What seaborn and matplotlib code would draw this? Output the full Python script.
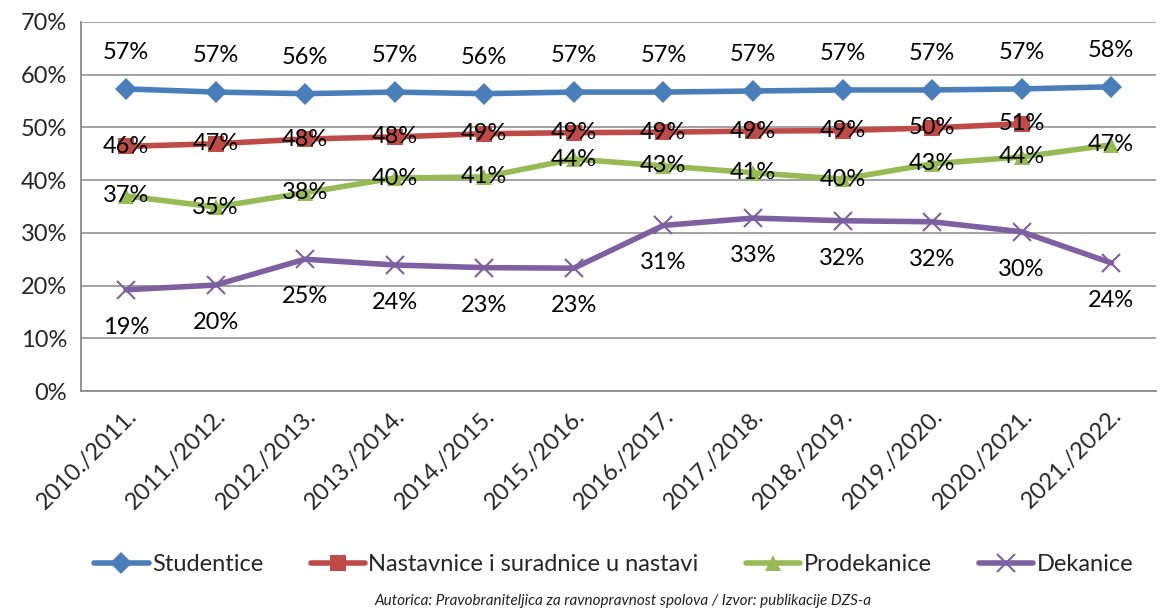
import pandas as pd
import seaborn as sns
import matplotlib.pyplot as plt

years = ["2010./2011.", "2011./2012.", "2012./2013.", "2013./2014.", "2014./2015.",
         "2015./2016.", "2016./2017.", "2017./2018.", "2018./2019.", "2019./2020.",
         "2020./2021.", "2021./2022."]
studentice = [57.3, 56.7, 56.4, 56.7, 56.4, 56.7, 56.7, 56.9, 57.1, 57.1, 57.3, 57.7]
nastavnice = [46.4, 46.9, 47.8, 48.2, 48.8, 49.0, 49.1, 49.3, 49.4, 49.9, 50.7]
prodekanice = [37.0, 34.9, 37.6, 40.4, 40.6, 44.0, 42.7, 41.4, 40.2, 43.1, 44.4, 46.7]
dekanice = [19.2, 20.1, 25.0, 23.9, 23.4, 23.3, 31.4, 32.8, 32.3, 32.1, 30.2, 24.3]

sns.set_style("white")
plt.rcParams["font.family"] = ["Lato", "DejaVu Sans"]

fig = plt.figure(figsize=(11.76, 6.10), dpi=100)
ax = fig.add_axes([0.069, 0.359, 0.914, 0.605])

# name, values, color, marker, marker size, label offset in points
series = [
    ("Studentice", studentice, "#4A7EBB", "D", 11, 26),
    ("Nastavnice i suradnice u nastavi", nastavnice, "#BE4B48", "s", 11, 0),
    ("Prodekanice", prodekanice, "#98B954", "^", 11, 0),
    ("Dekanice", dekanice, "#7D60A0", "x", 13, -27),
]

for name, vals, col, mk, ms, off in series:
    xs = list(range(len(vals)))
    sns.lineplot(x=xs, y=vals, ax=ax, color=col, linewidth=4, marker=mk,
                 markersize=ms, markeredgecolor=col, markeredgewidth=1.5 if mk == "x" else 0,
                 label=name, zorder=3)
    for x, v in zip(xs, vals):
        ax.annotate(f"{round(v):.0f}%", (x, v), xytext=(0, off), textcoords="offset points",
                    ha="center", va="center", fontsize=17, color="black", zorder=5)

ax.set_xlim(-0.5, len(years) - 0.5)
ax.set_ylim(0, 70)
ax.set_yticks(range(0, 71, 10))
ax.set_yticklabels([f"{t}%" for t in range(0, 71, 10)], fontsize=17)
ax.yaxis.grid(True, color="#9a9a9a", linewidth=1.3)
ax.set_axisbelow(True)

ax.set_xticks(range(len(years)))
ax.set_xticklabels(years, rotation=45, ha="right", rotation_mode="anchor", fontsize=17)
ax.set_xticks([i - 0.5 for i in range(len(years) + 1)], minor=True)
ax.tick_params(axis="x", which="major", length=0, pad=10)
ax.tick_params(axis="x", which="minor", length=7, width=1.3, color="#8a8a8a", direction="out")
ax.tick_params(axis="y", length=7, width=1.3, color="#8a8a8a", direction="out", pad=3)

for s in ["top", "right"]:
    ax.spines[s].set_visible(False)
for s in ["left", "bottom"]:
    ax.spines[s].set_color("#8a8a8a")
    ax.spines[s].set_linewidth(1.3)

ax.legend(loc="center", bbox_to_anchor=(0.522, 0.074), bbox_transform=fig.transFigure,
          ncol=4, frameon=False, fontsize=17, handlelength=2.3, handletextpad=0.15,
          columnspacing=2.0)

fig.text(0.53, 0.015, "Autorica: Pravobraniteljica za ravnopravnost spolova / Izvor: publikacije DZS-a",
         ha="center", va="center", fontsize=11, style="italic", color="#222222")

fig.savefig("out.png", dpi=100)
